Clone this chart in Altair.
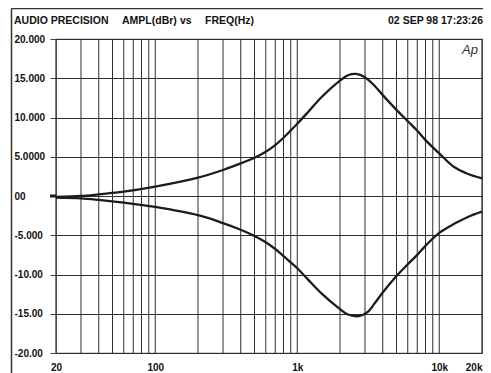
import altair as alt
import pandas as pd

# ---- data ----
boost_freq = [20, 30, 40, 60, 100, 200, 300, 400, 500, 600, 700, 800, 1000, 1193, 1480,
              2000, 2276, 2603, 2978, 3500, 4000, 5000, 6000, 7000, 8000, 10000, 12727,
              15785, 20000]
boost_db = [-0.13, 0.0, 0.21, 0.55, 1.19, 2.33, 3.31, 4.15, 4.87, 5.64, 6.48, 7.42, 9.2,
            10.7, 12.58, 14.7, 15.38, 15.55, 15.17, 14.05, 12.85, 10.97, 9.53, 8.31, 7.12,
            5.42, 3.69, 2.84, 2.25]

cut_freq = [20, 30, 40, 60, 100, 200, 300, 400, 500, 600, 700, 800, 1000, 1193, 1480,
            2000, 2276, 2704, 3140, 3500, 4000, 5000, 6000, 7000, 8000, 10000, 12727,
            15785, 20000]
cut_db = [-0.2, -0.3, -0.5, -0.85, -1.4, -2.45, -3.45, -4.3, -5.1, -5.9, -6.75, -7.65, -9.2,
          -10.65, -12.4, -14.4, -15.1, -15.3, -14.75, -13.7, -12.3, -10.2, -8.7, -7.5,
          -6.35, -4.7, -3.55, -2.7, -2.0]

grid_freqs = [20, 30, 40, 50, 60, 70, 80, 90, 100,
              200, 300, 400, 500, 600, 700, 800, 900, 1000,
              2000, 3000, 4000, 5000, 6000, 7000, 8000, 9000, 10000, 20000]

x_label_vals = [20, 100, 1000, 10000, 20000]
x_label_text = ["20", "100", "1k", "10k", "20k"]

y_tick_vals = [20, 15, 10, 5, 0, -5, -10, -15, -20]
y_tick_text = ["20.000", "15.000", "10.000", "5.0000", "00", "-5.000", "-10.00", "-15.00", "-20.00"]

header_left = "AUDIO PRECISION"
header_mid1 = "AMPL(dBr)"
header_mid2 = "vs"
header_mid3 = "FREQ(Hz)"
header_right = "02 SEP 98 17:23:26"
logo_text = "Ap"

# ---- tables ----
curve_df = pd.concat([
    pd.DataFrame({"f": boost_freq, "db": boost_db, "series": "boost"}),
    pd.DataFrame({"f": cut_freq, "db": cut_db, "series": "cut"}),
])
grid_df = pd.DataFrame({"f": grid_freqs, "db": [0.0] * len(grid_freqs)})
one = pd.DataFrame({"a": [0]})


def label_expr(vals, texts):
    expr = "''"
    for v, t in reversed(list(zip(vals, texts))):
        expr = f"datum.value == {v} ? '{t}' : ({expr})"
    return expr


FONT = "Liberation Sans"
INK = "#1c1c1c"
GRID = "#2e2e2e"

xs = alt.Scale(type="log", domain=[20, 20000], nice=False)
ys = alt.Scale(domain=[-20, 20], nice=False)

x_axis = alt.Axis(
    values=x_label_vals, labelExpr=label_expr(x_label_vals, x_label_text),
    title=None, grid=False, ticks=False, domain=False, labelPadding=9,
    labelOverlap=False, labelFlush=False, labelBaseline="top",
    labelAlign={"condition": {"test": f"datum.value == {x_label_vals[-1]}", "value": "right"},
                "value": "center"})
y_axis = alt.Axis(
    values=y_tick_vals, labelExpr=label_expr(y_tick_vals, y_tick_text),
    title=None, grid=True, gridColor=GRID, gridOpacity=1, gridWidth=1,
    tickColor="#444", tickSize=6, tickWidth=1, domain=False,
    labelAlign="left", labelBaseline="middle", labelPadding=36,
    labelOverlap=False, labelFlush=False)

grid = alt.Chart(grid_df).mark_rule(color=GRID, strokeWidth=1).encode(
    x=alt.X("f:Q", scale=xs, axis=x_axis)
)

curves = alt.Chart(curve_df).mark_line(
    color=INK, strokeWidth=2.3, interpolate="catmull-rom"
).encode(
    x=alt.X("f:Q", scale=xs, axis=x_axis),
    y=alt.Y("db:Q", scale=ys, axis=y_axis),
    detail="series:N",
)

zero_tick = alt.Chart(one).mark_rule(color=INK, strokeWidth=3).encode(
    y=alt.Y("a:Q", scale=ys, axis=y_axis), x=alt.value(-6), x2=alt.value(0)
)


def htext(txt, x, align):
    return alt.Chart(pd.DataFrame({"t": [txt]})).mark_text(
        font=FONT, fontSize=10.5, fontWeight="bold", color="#111",
        align=align, baseline="middle"
    ).encode(x=alt.value(x), y=alt.value(-18), text="t:N")


headers = (htext(header_left, -42, "left") + htext(header_mid1, 66, "left")
           + htext(header_mid2, 124, "left") + htext(header_mid3, 149, "left")
           + htext(header_right, 427, "right"))

logo = alt.Chart(pd.DataFrame({"t": [logo_text]})).mark_text(
    font=FONT, fontSize=13, fontStyle="italic", color="#333",
    align="center", baseline="middle"
).encode(x=alt.value(414), y=alt.value(11), text="t:N")

frame_top = alt.Chart(one).mark_rule(color="#333", strokeWidth=1.5).encode(
    x=alt.value(-44.5), x2=alt.value(440), y=alt.value(-30.5)
)
frame_left = alt.Chart(one).mark_rule(color="#333", strokeWidth=1.5).encode(
    x=alt.value(-44.5), y=alt.value(-30.5), y2=alt.value(340)
)

chart = alt.layer(
    grid, curves, zero_tick, headers, logo, frame_top, frame_left
).properties(
    width=426, height=314,
    padding={"left": 48, "top": 31, "right": 1, "bottom": 22},
    autosize="none", background="white",
).configure_view(
    stroke="#555", strokeWidth=1.2
).configure_axis(
    labelFont=FONT, labelFontSize=10, labelFontWeight="bold", labelColor="#111"
)

chart.save("out.html", embed_options={"renderer": "svg", "actions": False})
